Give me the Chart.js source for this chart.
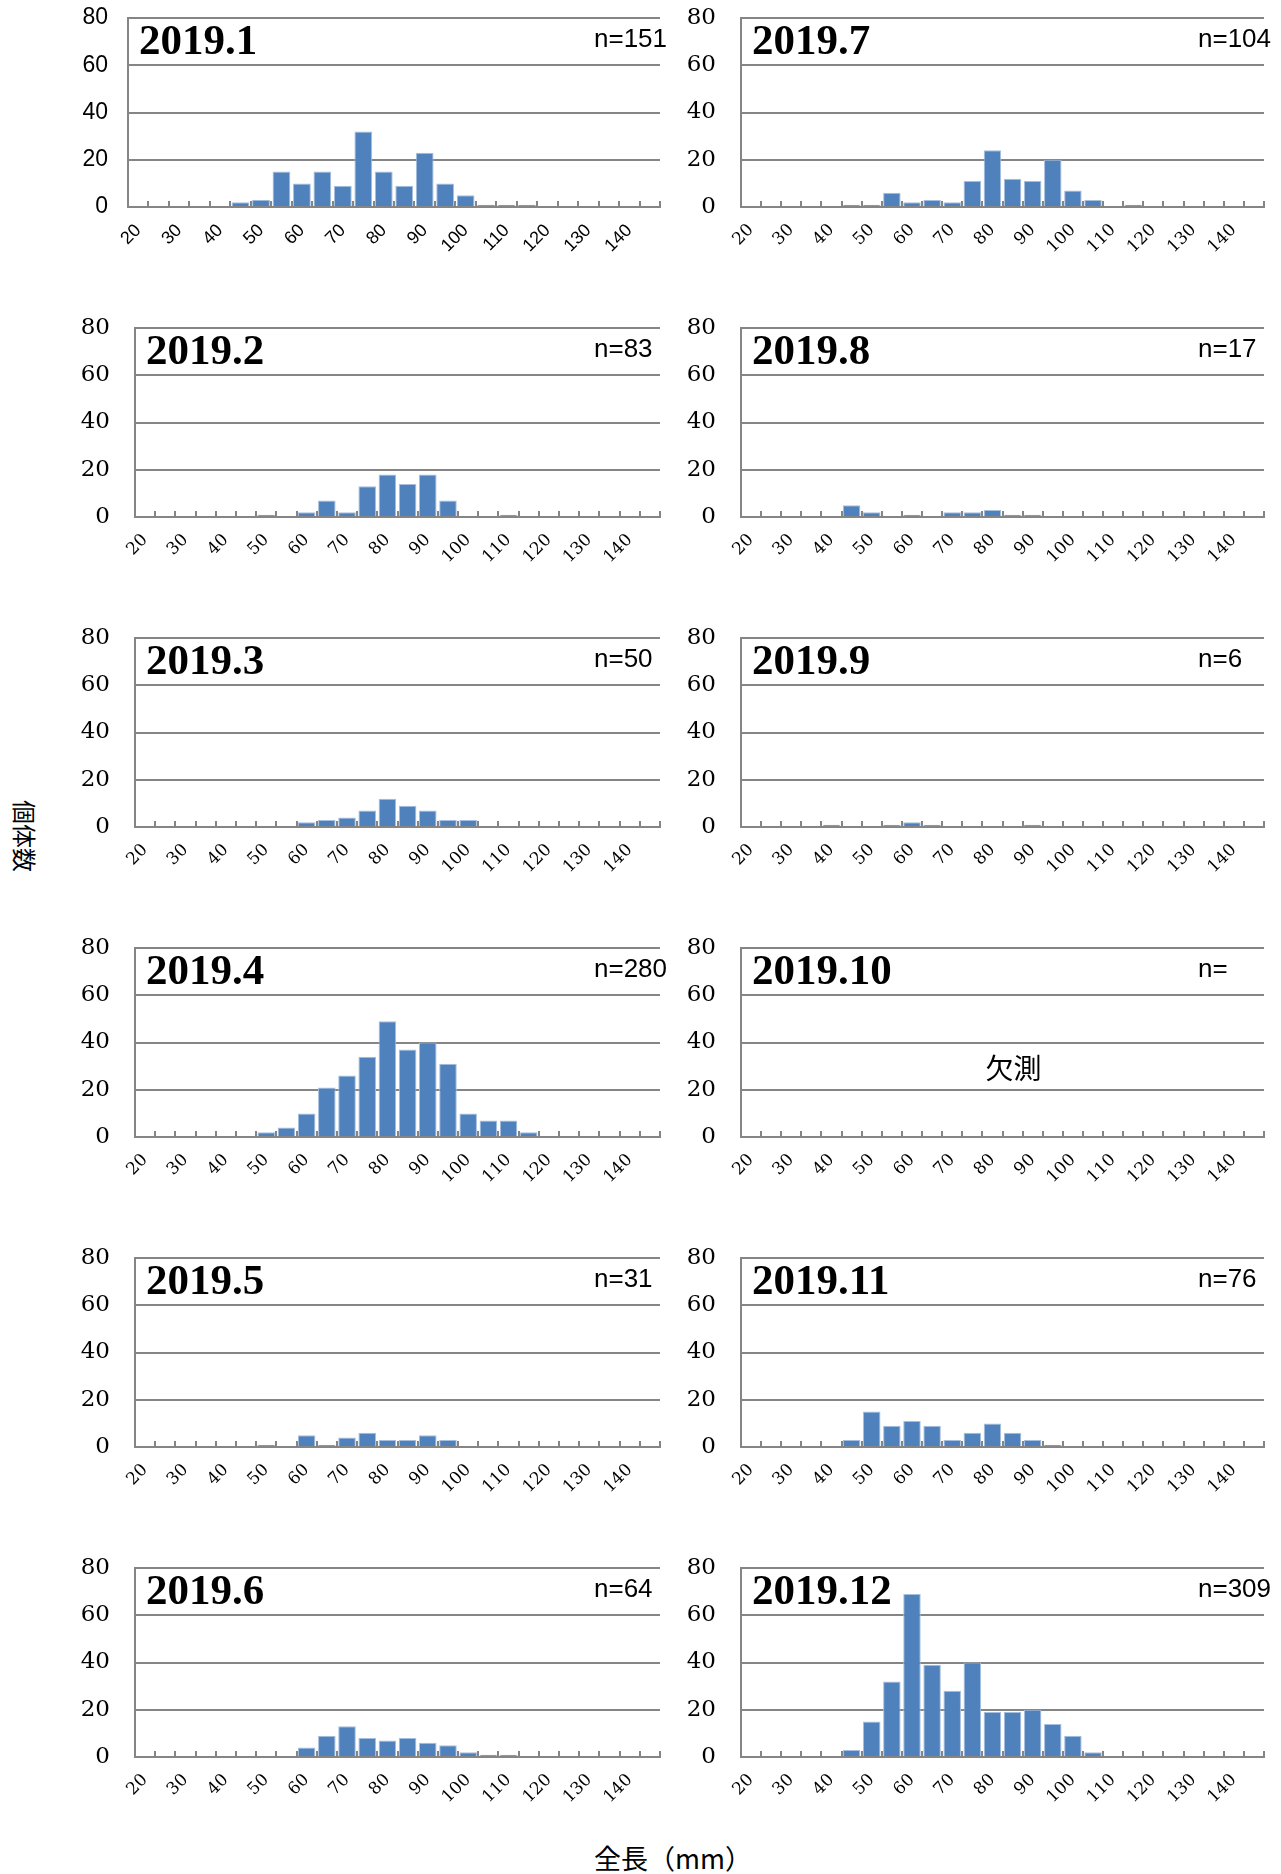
<!DOCTYPE html>
<html>
<head>
<meta charset="utf-8">
<title>全長組成 2019</title>
<script src="https://cdn.jsdelivr.net/npm/chart.js@4.4.1/dist/chart.umd.min.js"></script>
<style>
  body { margin: 0; background: #fff; width: 1281px; height: 1874px; position: relative; overflow: hidden; }
  .panel { position: absolute; height: 310px; }
  #yTitle {
    position: absolute; left: 8px; top: 800px;
    font: 24px "Noto Sans CJK JP", sans-serif; color: #000;
    writing-mode: vertical-rl; text-orientation: sideways;
  }
  #xTitle {
    position: absolute; left: 594px; top: 1838px;
    font: 27px "Noto Sans CJK JP", sans-serif; color: #000;
  }
</style>
</head>
<body>
<div id="yTitle">個体数</div>
<div id="xTitle">全長（mm）</div>

<script>
// 5 mm length classes (only every second one gets a label)
const lengthBins = ['20', '25', '30', '35', '40', '45', '50', '55', '60', '65', '70', '75', '80',
                    '85', '90', '95', '100', '105', '110', '115', '120', '125', '130', '135', '140', '145'];

// counts per length class
const jan2019 = [0, 0, 0, 0, 0, 2, 3, 15, 10, 15, 9, 32, 15, 9, 23, 10, 5, 1, 1, 1, 0, 0, 0, 0, 0, 0];
const feb2019 = [0, 0, 0, 0, 0, 0, 1, 0, 2, 7, 2, 13, 18, 14, 18, 7, 0, 0, 1, 0, 0, 0, 0, 0, 0, 0];
const mar2019 = [0, 0, 0, 0, 0, 0, 0, 0, 2, 3, 4, 7, 12, 9, 7, 3, 3, 0, 0, 0, 0, 0, 0, 0, 0, 0];
const apr2019 = [0, 0, 0, 0, 0, 0, 2, 4, 10, 21, 26, 34, 49, 37, 40, 31, 10, 7, 7, 2, 0, 0, 0, 0, 0, 0];
const may2019 = [0, 0, 0, 0, 0, 0, 1, 0, 5, 1, 4, 6, 3, 3, 5, 3, 0, 0, 0, 0, 0, 0, 0, 0, 0, 0];
const jun2019 = [0, 0, 0, 0, 0, 0, 0, 0, 4, 9, 13, 8, 7, 8, 6, 5, 2, 1, 1, 0, 0, 0, 0, 0, 0, 0];
const jul2019 = [0, 0, 0, 0, 0, 1, 1, 6, 2, 3, 2, 11, 24, 12, 11, 20, 7, 3, 0, 1, 0, 0, 0, 0, 0, 0];
const aug2019 = [0, 0, 0, 0, 0, 5, 2, 0, 1, 0, 2, 2, 3, 1, 1, 0, 0, 0, 0, 0, 0, 0, 0, 0, 0, 0];
const sep2019 = [0, 0, 0, 0, 1, 0, 0, 1, 2, 1, 0, 0, 0, 0, 1, 0, 0, 0, 0, 0, 0, 0, 0, 0, 0, 0];
const oct2019 = [];  // 欠測
const nov2019 = [0, 0, 0, 0, 0, 3, 15, 9, 11, 9, 3, 6, 10, 6, 3, 1, 0, 0, 0, 0, 0, 0, 0, 0, 0, 0];
const dec2019 = [0, 0, 0, 0, 0, 3, 15, 32, 69, 39, 28, 40, 19, 19, 20, 14, 9, 2, 0, 0, 0, 0, 0, 0, 0, 0];

const monthLabels = ['2019.1', '2019.2', '2019.3', '2019.4', '2019.5', '2019.6',
                     '2019.7', '2019.8', '2019.9', '2019.10', '2019.11', '2019.12'];
const sampleSizes = [151, 83, 50, 280, 31, 64, 104, 17, 6, null, 76, 309];
const monthSeries = [jan2019, feb2019, mar2019, apr2019, may2019, jun2019,
                     jul2019, aug2019, sep2019, oct2019, nov2019, dec2019];
const yTicks = [0, 20, 40, 60, 80];

const GRAY = '#858585';
const BAR = '#4f81bd';

// month title, n= and the "missing" note inside each plot
const panelText = {
    id: 'panelText',
    afterDraw(chart, args, opts) {
        const { ctx, chartArea: a } = chart;
        ctx.save();
        ctx.fillStyle = '#000';
        ctx.textBaseline = 'alphabetic';
        ctx.textAlign = 'left';
        ctx.font = 'bold 43px "Liberation Serif", serif';
        ctx.fillText(opts.title, a.left + 11, a.top + 36);
        ctx.font = '26px "Liberation Sans", sans-serif';
        ctx.fillText(opts.n, a.right - 66, a.top + 29);
        if (opts.note) {
            ctx.textAlign = 'center';
            ctx.textBaseline = 'middle';
            ctx.font = '28px "Noto Sans CJK JP", sans-serif';
            ctx.fillText(opts.note, (a.left + a.right) / 2 + 11, chart.scales.y.getPixelForValue(29));
        }
        ctx.restore();
    }
};

function makePanel(i) {
    const col = Math.floor(i / 6);
    const row = i % 6;
    const canvasW = col === 0 ? 680 : 668;
    const wrap = document.createElement('div');
    wrap.className = 'panel';
    wrap.style.left = (col === 0 ? 0 : 613) + 'px';
    wrap.style.top = (row * 310) + 'px';
    wrap.style.width = canvasW + 'px';
    const canvas = document.createElement('canvas');
    canvas.width = canvasW;
    canvas.height = 310;
    wrap.appendChild(canvas);
    document.body.appendChild(wrap);

    // the first panel was typeset in a sans face in the original
    const first = i === 0;
    const tickFamily = first ? '"Liberation Sans", sans-serif' : '"DejaVu Serif", serif';
    const ySize = first ? 23 : 23;
    const xSize = first ? 18 : 17;
    const yAxisW = (col === 0 && !first) ? 135 : 128;
    const yPad = first ? 20 : 25;

    new Chart(canvas, {
        type: 'bar',
        data: {
            labels: lengthBins,
            datasets: [{
                data: monthSeries[i],
                backgroundColor: BAR,
                borderColor: '#a7bfde',
                borderWidth: 1,
                barPercentage: 0.87,
                categoryPercentage: 1.0
            }]
        },
        options: {
            responsive: false,
            animation: false,
            layout: { padding: { left: 0, right: col === 0 ? 20 : 17, top: 18, bottom: 0 } },
            plugins: {
                legend: { display: false },
                tooltip: { enabled: false },
                panelText: {
                    title: monthLabels[i],
                    n: 'n=' + (sampleSizes[i] === null ? '' : sampleSizes[i]),
                    note: monthSeries[i].length === 0 ? '欠測' : ''
                }
            },
            scales: {
                x: {
                    grid: { drawOnChartArea: false, tickLength: -6, color: GRAY, lineWidth: 2 },
                    border: { color: GRAY, width: 2 },
                    ticks: {
                        autoSkip: false,
                        maxRotation: 45,
                        minRotation: 45,
                        padding: 19,
                        color: '#000',
                        font: { family: tickFamily, size: xSize },
                        callback(value, index) {
                            return index % 2 === 0 ? this.getLabelForValue(value) : '';
                        }
                    },
                    afterFit(scale) {
                        scale.height = 103;
                        scale.paddingLeft = 0;
                        scale.paddingRight = 0;
                    }
                },
                y: {
                    min: 0,
                    max: 80,
                    afterBuildTicks(scale) { scale.ticks = yTicks.map(v => ({ value: v })); },
                    grid: { color: GRAY, lineWidth: 2, drawTicks: false },
                    border: { color: GRAY, width: 2 },
                    ticks: {
                        padding: yPad,
                        color: '#000',
                        font: { family: tickFamily, size: ySize }
                    },
                    afterFit(scale) {
                        scale.width = yAxisW;
                        scale.paddingTop = 0;
                        scale.paddingBottom = 0;
                    }
                }
            }
        },
        plugins: [panelText]
    });
}

for (let i = 0; i < 12; i++) makePanel(i);
</script>
</body>
</html>
